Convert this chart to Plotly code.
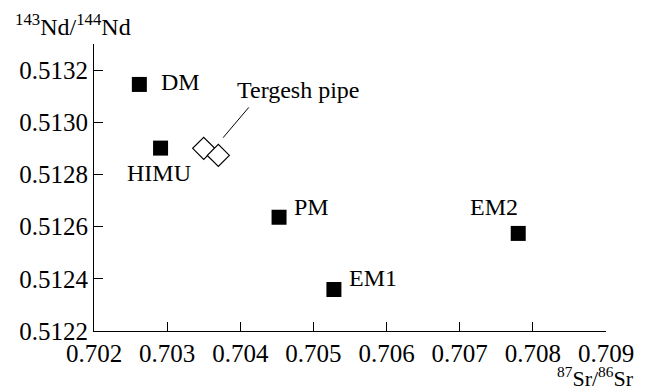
import plotly.graph_objects as go

# --- data ---
names = ["DM", "HIMU", "PM", "EM1", "EM2"]
sr = [0.70262, 0.70291, 0.70453, 0.70528, 0.70780]
nd = [0.513145, 0.512901, 0.512636, 0.512359, 0.512574]
terg_sr = [0.70350, 0.70370]
terg_nd = [0.512900, 0.512873]
terg_label = "Tergesh pipe"
leader_sr = [0.703765, 0.704116]
leader_nd = [0.512941, 0.513057]
x_ticks = [0.702, 0.703, 0.704, 0.705, 0.706, 0.707, 0.708, 0.709]
y_ticks = [0.5122, 0.5124, 0.5126, 0.5128, 0.5130, 0.5132]

# label placement (style): xanchor, yanchor, xshift, yshift
label_style = {
    "DM": ("left", "middle", 20, 2),
    "HIMU": ("center", "top", -2, -10),
    "PM": ("left", "middle", 13, 10),
    "EM1": ("left", "middle", 13, 12),
    "EM2": ("right", "middle", 2, 26),
}

FONT = "Liberation Serif"

fig = go.Figure()
fig.add_trace(go.Scatter(
    x=leader_sr, y=leader_nd, mode="lines",
    line=dict(color="black", width=1), hoverinfo="skip", showlegend=False))
fig.add_trace(go.Scatter(
    x=sr, y=nd, mode="markers",
    marker=dict(symbol="square", size=15, color="black"),
    showlegend=False))
fig.add_trace(go.Scatter(
    x=terg_sr, y=terg_nd, mode="markers",
    marker=dict(symbol="diamond", size=17, color="white", line=dict(color="black", width=1.2)),
    showlegend=False))

for n, x, y in zip(names, sr, nd):
    xa, ya, xs, ys = label_style[n]
    fig.add_annotation(x=x, y=y, text=n, showarrow=False, xanchor=xa, yanchor=ya,
                       xshift=xs, yshift=ys, font=dict(family=FONT, size=24, color="black"))

fig.add_annotation(x=leader_sr[1], y=leader_nd[1], text=terg_label, showarrow=False,
                   xanchor="left", yanchor="bottom", xshift=-14, yshift=2,
                   font=dict(family=FONT, size=24, color="black"))

# axis titles
fig.add_annotation(xref="paper", yref="paper", x=-0.158, y=1.0, xanchor="left", yanchor="bottom",
                   yshift=2, showarrow=False,
                   text="<sup>143</sup>Nd/<sup>144</sup>Nd",
                   font=dict(family=FONT, size=24, color="black"))
fig.add_annotation(xref="paper", yref="paper", x=1.058, y=0.0, xanchor="right", yanchor="top",
                   yshift=-30, showarrow=False,
                   text="<sup>87</sup>Sr/<sup>86</sup>Sr",
                   font=dict(family=FONT, size=22, color="black"))

fig.update_layout(
    width=646, height=390,
    margin=dict(l=94, r=33, t=44, b=59),
    plot_bgcolor="white", paper_bgcolor="white",
    font=dict(family=FONT, color="black"),
    xaxis=dict(range=[0.702, 0.709], tickvals=x_ticks, tickformat=".3f",
               ticks="inside", ticklen=9, tickcolor="black", tickwidth=1,
               showline=True, linecolor="black", linewidth=1, showgrid=False, zeroline=False,
               tickfont=dict(family=FONT, size=25, color="black")),
    yaxis=dict(range=[0.5122, 0.5133], tickvals=y_ticks, tickformat=".4f",
               ticks="inside", ticklen=9, tickcolor="black", tickwidth=1,
               showline=True, linecolor="black", linewidth=1, showgrid=False, zeroline=False,
               tickfont=dict(family=FONT, size=25, color="black")),
)

fig.write_html("out.html")
